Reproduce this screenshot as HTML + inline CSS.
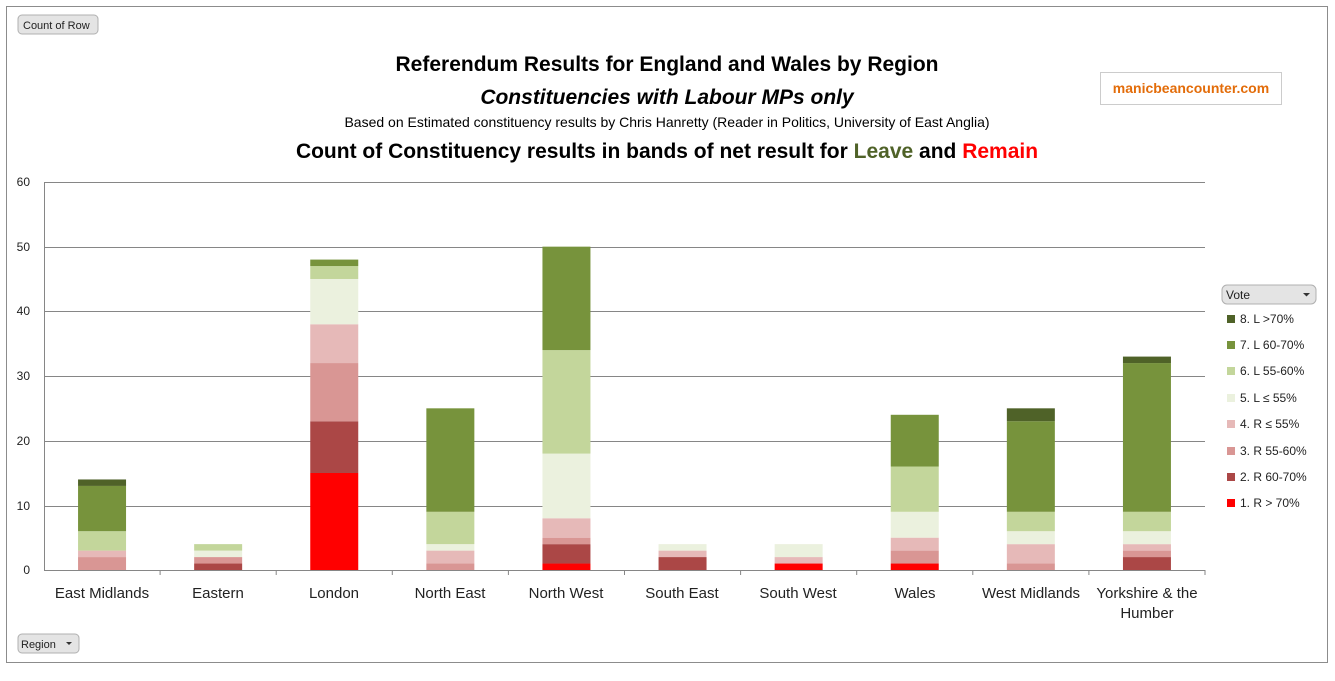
<!DOCTYPE html>
<html><head><meta charset="utf-8"><style>
body{margin:0;background:#fff;width:1335px;height:676px;overflow:hidden;font-family:"Liberation Sans",sans-serif}
</style></head><body>
<svg width="1335" height="676" xmlns="http://www.w3.org/2000/svg" font-family="Liberation Sans, sans-serif">
<rect x="6.5" y="6.5" width="1321" height="656" fill="#fff" stroke="#8c8c8c"/>
<rect x="18" y="15" width="80" height="19" rx="4" fill="#e4e4e4" stroke="#b0b0b0"/>
<text x="23" y="29" font-size="11" fill="#222">Count of Row</text>
<rect x="18" y="634" width="61" height="19" rx="4" fill="#e4e4e4" stroke="#b0b0b0"/>
<text x="21" y="648" font-size="11" fill="#222">Region</text>
<path d="M66 642 l6 0 l-3 3z" fill="#333"/>
<text x="667" y="71" font-size="21" font-weight="bold" text-anchor="middle">Referendum Results for England and Wales by Region</text>
<text x="667" y="104" font-size="21" font-weight="bold" font-style="italic" text-anchor="middle">Constituencies with Labour MPs only</text>
<text x="667" y="127" font-size="14" text-anchor="middle">Based on Estimated constituency results by Chris Hanretty (Reader in Politics, University of East Anglia)</text>
<text x="667" y="158" font-size="21" font-weight="bold" text-anchor="middle">Count of Constituency results in bands of net result for <tspan fill="#4f6228">Leave</tspan> and <tspan fill="#ff0000">Remain</tspan></text>
<rect x="1100.5" y="72.5" width="181" height="32" fill="#fff" stroke="#ccc"/>
<text x="1191" y="93" font-size="14" font-weight="bold" fill="#e36c09" text-anchor="middle">manicbeancounter.com</text>
<g stroke="#868686" stroke-width="1">
<line x1="44" y1="182.5" x2="1205" y2="182.5"/><line x1="44" y1="247.5" x2="1205" y2="247.5"/>
<line x1="44" y1="311.5" x2="1205" y2="311.5"/><line x1="44" y1="376.5" x2="1205" y2="376.5"/>
<line x1="44" y1="441.5" x2="1205" y2="441.5"/><line x1="44" y1="506.5" x2="1205" y2="506.5"/>
<line x1="44.5" y1="182" x2="44.5" y2="570"/>
<line x1="44" y1="570.5" x2="1205" y2="570.5"/>
</g>
<g font-size="12" text-anchor="end" fill="#222">
<text x="30" y="186">60</text><text x="30" y="251">50</text><text x="30" y="315">40</text>
<text x="30" y="380">30</text><text x="30" y="445">20</text><text x="30" y="510">10</text><text x="30" y="574">0</text>
</g>
<g id="bars"></g>
<g font-size="15" text-anchor="middle" fill="#222">
<text x="102" y="598">East Midlands</text><text x="218" y="598">Eastern</text><text x="334" y="598">London</text>
<text x="450" y="598">North East</text><text x="566" y="598">North West</text><text x="682" y="598">South East</text>
<text x="798" y="598">South West</text><text x="915" y="598">Wales</text><text x="1031" y="598">West Midlands</text>
<text x="1147" y="598">Yorkshire &amp; the</text><text x="1147" y="618">Humber</text>
</g>
<rect x="1222" y="285" width="94" height="19" rx="5" fill="#e4e4e4" stroke="#b0b0b0"/>
<text x="1226" y="299" font-size="12" fill="#222">Vote</text>
<path d="M1303 293 l7 0 l-3.5 3.5z" fill="#333"/>
<g font-size="12" fill="#222">
<rect x="1227" y="315" width="8" height="8" fill="#4f6228"/><text x="1240" y="323">8. L &gt;70%</text>
<rect x="1227" y="341" width="8" height="8" fill="#77933c"/><text x="1240" y="349">7. L 60-70%</text>
<rect x="1227" y="367" width="8" height="8" fill="#c3d69b"/><text x="1240" y="375">6. L 55-60%</text>
<rect x="1227" y="394" width="8" height="8" fill="#ebf1de"/><text x="1240" y="402">5. L ≤ 55%</text>
<rect x="1227" y="420" width="8" height="8" fill="#e6b9b8"/><text x="1240" y="428">4. R ≤ 55%</text>
<rect x="1227" y="447" width="8" height="8" fill="#d99694"/><text x="1240" y="455">3. R 55-60%</text>
<rect x="1227" y="473" width="8" height="8" fill="#ab4746"/><text x="1240" y="481">2. R 60-70%</text>
<rect x="1227" y="499" width="8" height="8" fill="#ff0000"/><text x="1240" y="507">1. R &gt; 70%</text>
</g>
</svg>
<script>
var cols=["#ff0000","#ab4746","#d99694","#e6b9b8","#ebf1de","#c3d69b","#77933c","#4f6228"];
var data=[[0,0,2,1,0,3,7,1],[0,1,1,0,1,1,0,0],[15,8,9,6,7,2,1,0],[0,0,1,2,1,5,16,0],[1,3,1,3,10,16,16,0],
[0,2,0,1,1,0,0,0],[1,0,0,1,2,0,0,0],[1,0,2,2,4,7,8,0],[0,0,1,3,2,3,14,2],[0,2,1,1,2,3,23,1]];
var g=document.getElementById("bars"),s="";
for(var i=0;i<10;i++){var cx=44+116.1*(i+0.5),c=0;
for(var k=0;k<8;k++){var v=data[i][k];if(!v)continue;
var y1=570-(c+v)*6.467,h=v*6.467;
s+='<rect x="'+(cx-24)+'" y="'+y1+'" width="48" height="'+h+'" fill="'+cols[k]+'"/>';c+=v;}
s+='<line x1="'+(44+116.1*(i+1))+'" y1="570" x2="'+(44+116.1*(i+1))+'" y2="575" stroke="#868686"/>';}
g.innerHTML=s;
</script>
</body></html>
